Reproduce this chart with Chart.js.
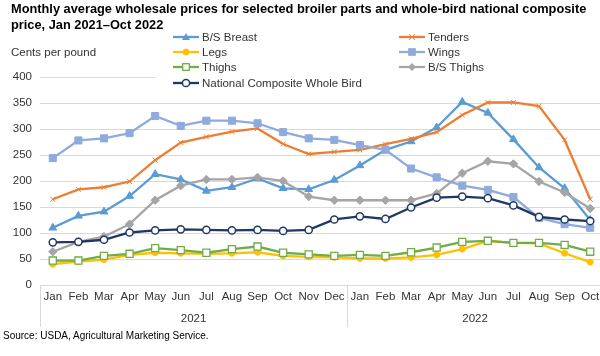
<!DOCTYPE html>
<html><head><meta charset="utf-8">
<script src="https://cdn.jsdelivr.net/npm/chart.js@4"></script>
<style>
html,body{margin:0;padding:0;background:#fff;}
#wrap{position:relative;width:600px;height:356px;overflow:hidden;font-family:"Liberation Sans",Arial,sans-serif;color:#000}
#c{position:absolute;left:0;top:0}
#title{position:absolute;left:11px;top:1px;font-weight:bold;font-size:12.8px;line-height:15.5px;color:#000;white-space:nowrap}
#unit{position:absolute;left:11px;top:45px;font-size:11.5px;line-height:14px;color:#333}
#legend{position:absolute;left:155px;top:29px;width:445px;height:62px;background:#fff}
.li{position:absolute;height:14px;font-size:11.5px;line-height:14px;color:#333;white-space:nowrap;display:flex;align-items:center}
.li svg{margin-right:3px}
#source{position:absolute;left:3px;top:330px;font-size:10px;line-height:12px;color:#000;white-space:nowrap}
</style></head>
<body>
<div id="wrap">
<canvas id="c" width="603" height="356"></canvas>
<div id="title">Monthly average wholesale prices for selected broiler parts and whole-bird national composite<br>price, Jan 2021–Oct 2022</div>
<div id="unit">Cents per pound</div>
<div id="legend"></div>
<div id="source">Source: USDA, Agricultural Marketing Service.</div>
</div>
<script>
const months = ['Jan','Feb','Mar','Apr','May','Jun','Jul','Aug','Sep','Oct','Nov','Dec','Jan','Feb','Mar','Apr','May','Jun','Jul','Aug','Sep','Oct'];
const years = ['2021','2022'];
const monthsPerYear = [12,10];
const yTicks = [0,50,100,150,200,250,300,350,400];

const seriesNames = ['B/S Breast','Tenders','Legs','Wings','Thighs','B/S Thighs','National Composite Whole Bird'];
const bsBreast = [110,133,141,171,213,203,181,188,205,186,184,202,230,260,276,303,352,331,280,226,186,125];
const tenders  = [165,184,188,199,240,274,285,295,301,271,252,256,260,271,281,294,327,351,351,344,279,165];
const legs     = [40,45,49,58,62,61,60,61,63,56,54,53,51,51,53,58,69,85,81,80,61,44];
const wings    = [244,278,282,292,325,306,316,316,311,294,282,279,269,260,224,207,191,183,169,129,117,110];
const thighs   = [47,47,56,60,71,67,62,69,74,62,59,56,58,56,63,72,83,85,81,81,77,64];
const bsThighs = [64,83,93,117,163,191,203,203,207,200,170,163,163,163,163,176,215,238,233,199,178,147];
const national = [82,83,87,101,105,107,106,105,106,104,106,126,132,127,149,168,170,167,153,131,126,123];

const values = [bsBreast,tenders,legs,wings,thighs,bsThighs,national];
const colors = ['#5B9BD5','#ED7D31','#FFC000','#8FAADC','#70AD47','#A5A5A5','#1F3864'];
const styles = [
  {ps:'triangle', r:4.5, fill:true},
  {ps:'crossRot', r:3.5, fill:false, bw:1},
  {ps:'circle', r:3, fill:true},
  {ps:'rect', r:5, fill:true},
  {ps:'rect', r:5, fill:'#fff', bw:1.3},
  {ps:'rectRot', r:4.2, fill:true},
  {ps:'circle', r:3.6, fill:'#fff', bw:1.5}
];

const datasets = values.map((v,i)=>({
  label: seriesNames[i],
  data: v,
  borderColor: colors[i],
  borderWidth: 2.3,
  pointStyle: styles[i].ps,
  pointRadius: styles[i].r,
  pointBackgroundColor: styles[i].fill===true ? colors[i] : (styles[i].fill||'transparent'),
  pointBorderColor: colors[i],
  pointBorderWidth: styles[i].bw || 1,
  tension: 0,
  clip: false,
  order: values.length - i
}));

const yearTicks = [];
const boundaries = [];
let acc = 0;
monthsPerYear.forEach(n => { yearTicks.push({value: acc + (n-1)/2}); acc += n; boundaries.push(acc); });

const sepPlugin = {
  id:'sep',
  afterDraw(chart){
    const x = chart.scales.x, a = chart.chartArea, ctx = chart.ctx;
    const xs = [a.left];
    boundaries.forEach(b=>{
      if (b < months.length) xs.push((x.getPixelForValue(b-1)+x.getPixelForValue(b))/2);
    });
    xs.push(a.right);
    ctx.save();
    ctx.strokeStyle = '#D9D9D9'; ctx.lineWidth = 1;
    xs.forEach(px=>{
      const p = Math.round(px)+0.5;
      ctx.beginPath(); ctx.moveTo(p, a.bottom); ctx.lineTo(p, a.bottom+42); ctx.stroke();
    });
    ctx.restore();
  }
};

const tickFont = {family:'"Liberation Sans", Arial, sans-serif', size:11.5};
function noPad(s){ s.paddingLeft = 0; s.paddingRight = 0; }
new Chart(document.getElementById('c'), {
  type:'line',
  data:{labels:months, datasets},
  options:{
    responsive:false, animation:false,
    layout:{autoPadding:false, padding:{top:77,left:0,right:0,bottom:13}},
    plugins:{legend:{display:false}, tooltip:{enabled:false}},
    scales:{
      x:{type:'category', offset:true, grid:{display:false, drawTicks:false}, border:{display:false},
         ticks:{padding:5, font:tickFont, color:'#333', autoSkip:false, maxRotation:0},
         afterFit:s=>{s.height=18; noPad(s);}},
      x2:{type:'linear', position:'bottom', min:-0.5, max:months.length-0.5,
          grid:{display:false, drawTicks:false}, border:{display:false},
          afterBuildTicks:s=>{s.ticks = yearTicks.map(t=>({value:t.value}));},
          ticks:{padding:9, font:tickFont, color:'#333', autoSkip:false, maxRotation:0,
                 callback:(v)=>{const k = yearTicks.findIndex(t=>t.value===v); return k>=0?years[k]:'';}},
          afterFit:s=>{s.height=40; noPad(s);}},
      y:{min:0, max:400, afterBuildTicks:s=>{s.ticks = yTicks.map(v=>({value:v}));},
         grid:{color:'#D9D9D9', drawTicks:false, lineWidth:1}, border:{display:false},
         ticks:{padding:8, font:tickFont, color:'#333'},
         afterFit:s=>{s.width=40; s.paddingTop=0; s.paddingBottom=0;}}
    }
  },
  plugins:[sepPlugin]
});

function marker(i){
  const c = colors[i], s = styles[i];
  const cx=13, cy=6;
  let m='';
  if (s.ps==='triangle') m=`<polygon points="${cx},${cy-4} ${cx+4},${cy+3} ${cx-4},${cy+3}" fill="${c}"/>`;
  else if (s.ps==='crossRot') m=`<path d="M${cx-3} ${cy-3}L${cx+3} ${cy+3}M${cx+3} ${cy-3}L${cx-3} ${cy+3}" stroke="${c}" stroke-width="1"/>`;
  else if (s.ps==='circle') m=`<circle cx="${cx}" cy="${cy}" r="${s.r}" fill="${s.fill===true?c:'#fff'}" stroke="${c}" stroke-width="${s.bw||1}"/>`;
  else if (s.ps==='rect') m=`<rect x="${cx-3.3}" y="${cy-3.3}" width="6.6" height="6.6" fill="${s.fill===true?c:'#fff'}" stroke="${c}" stroke-width="${s.bw||1}"/>`;
  else if (s.ps==='rectRot') m=`<polygon points="${cx},${cy-4} ${cx+4},${cy} ${cx},${cy+4} ${cx-4},${cy}" fill="${c}"/>`;
  return `<svg width="26" height="12" viewBox="0 0 26 12"><line x1="0" y1="6" x2="26" y2="6" stroke="${c}" stroke-width="2.3"/>${m}</svg>`;
}
const lg = document.getElementById('legend');
const colX = [173-155, 399-155];
const rowY = [37,52,67,83];
seriesNames.forEach((n,i)=>{
  const d = document.createElement('div');
  d.className='li';
  d.style.left = colX[i%2]+'px';
  d.style.top = (rowY[Math.floor(i/2)]-29-7)+'px';
  d.innerHTML = marker(i)+'<span>'+n+'</span>';
  lg.appendChild(d);
});
</script>
</body></html>
